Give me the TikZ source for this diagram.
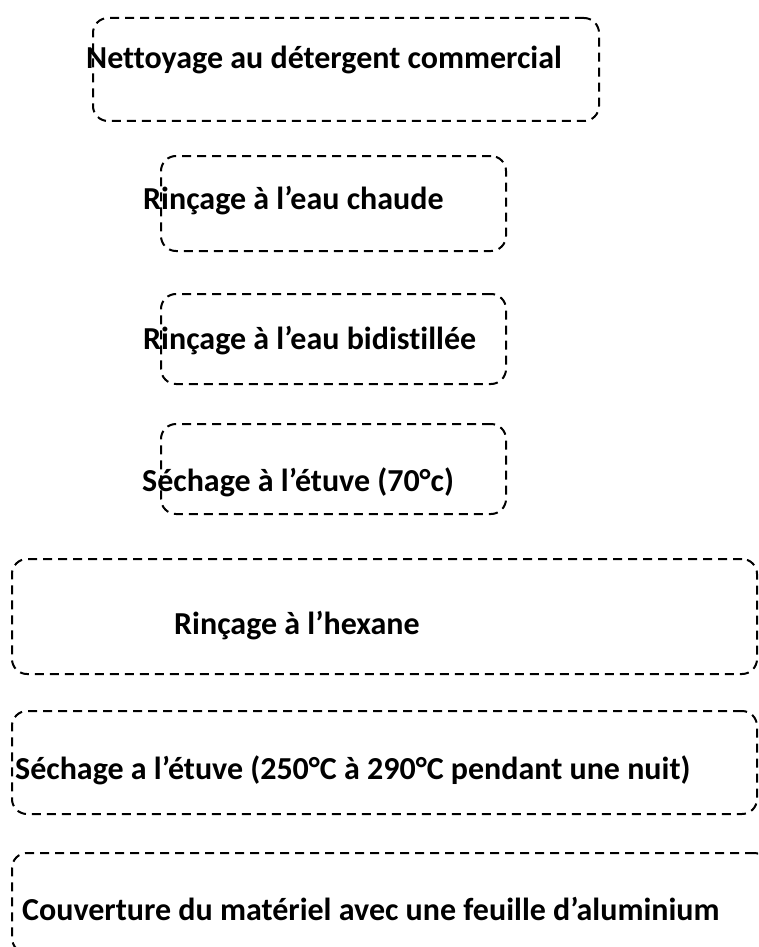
\documentclass[tikz,border=0pt]{standalone}
\usepackage{fontspec}
\setmainfont{Carlito}[Ligatures=NoCommon]
\usetikzlibrary{positioning}
\definecolor{stepInk}{HTML}{000000}
\tikzset{
  every picture/.style={font=\bfseries\fontsize{32}{38}\selectfont, text=stepInk},
  step box/.style={draw=stepInk, line width=2pt, dash pattern=on 9pt off 6pt,
    rounded corners=15pt, anchor=north west, inner sep=0pt},
  step text/.style={anchor=base west, inner sep=0pt}
}
\begin{document}
\begin{tikzpicture}[x=1pt,y=-1pt]
  \path[use as bounding box, clip] (0,0) rectangle (758,947);
  % cadres
  \node[step box, minimum width=506pt, minimum height=103pt] (box1) at (92,17) {};
  \node[step box, minimum width=345pt, minimum height=95pt] (box2) at (160,155) {};
  \node[step box, minimum width=345pt, minimum height=90pt] (box3) at (160,293) {};
  \node[step box, minimum width=345pt, minimum height=90pt] (box4) at (160,423) {};
  \node[step box, minimum width=745pt, minimum height=115pt] (box5) at (11,558) {};
  \node[step box, minimum width=745pt, minimum height=103pt] (box6) at (11,710) {};
  \node[step box, minimum width=757pt, minimum height=100pt] (box7) at (11,852) {};
  % textes
  \node[step text] (txt1) at (86,69) {Nettoyage au détergent commercial};
  \node[step text] (txt2) at (143,209) {Rinçage à l’eau chaude};
  \node[step text] (txt3) at (143,349) {Rinçage à l’eau bidistillée};
  \node[step text] (txt4) at (142,491) {Séchage à l’étuve (70°c)};
  \node[step text] (txt5) at (174,634) {Rinçage à l’hexane};
  \node[step text] (txt6) at (15,779) {Séchage a l’étuve (250°C à 290°C pendant une nuit)};
  \node[step text] (txt7) at (22,920) {Couverture du matériel avec une feuille d’aluminium};
\end{tikzpicture}
\end{document}
